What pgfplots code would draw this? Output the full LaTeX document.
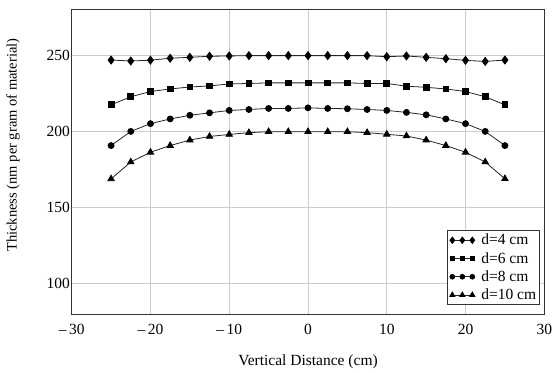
\documentclass[border=0pt]{standalone}
\usepackage{fontspec}
\setmainfont{Liberation Serif}
\usepackage{pgfplots}
\pgfplotsset{compat=1.18}
\begin{document}
\begin{tikzpicture}
\useasboundingbox (-71.7bp,-58.7bp) rectangle (488.3bp,314.3bp);
\begin{axis}[
  at={(0,0)}, anchor=south west,
  width=472.6bp, height=304.3bp, scale only axis,
  xmin=-30, xmax=30, ymin=80, ymax=280,
  xtick={-30,-20,-10,0,10,20,30},
  xticklabels={\textnormal{\textendash\hspace{2.5bp}30},\textnormal{\textendash\hspace{2.5bp}20},\textnormal{\textendash\hspace{2.5bp}10},\textnormal{0},\textnormal{10},\textnormal{20},\textnormal{30}},
  ytick={100,150,200,250},
  yticklabels={\textnormal{100},\textnormal{150},\textnormal{200},\textnormal{250}},
  major tick length=0pt,
  grid=major,
  grid style={draw=black!20, line width=0.8bp},
  axis line style={draw=black!80, line width=1bp},
  font=\fontsize{15.5bp}{18bp}\selectfont,
  tick label style={font=\fontsize{15.5bp}{18bp}\selectfont},
  yticklabel style={inner sep=1.5bp},
  xticklabel style={inner sep=1bp, yshift=-9bp},
  xlabel={Vertical Distance (cm)},
  ylabel={Thickness (nm per gram of material)},
  xlabel style={at={(axis description cs:0.5,-0.157)}, anchor=center},
  ylabel style={at={(axis description cs:-0.124,0.556)}, anchor=center, rotate=0, font=\fontsize{14.5bp}{17bp}\selectfont},
  legend image code/.code={\path[draw=none,fill=none] (-3bp,-4bp) rectangle (23bp,4bp);\draw[#1, every mark/.append style={scale=0.8}] plot coordinates {(0bp,0bp) (10bp,0bp) (20bp,0bp)};},
  legend style={at={(rel axis cs:1,0)}, anchor=south east, xshift=-4.3bp, yshift=9.3bp,
    draw=black!80, line width=0.8bp, fill=white, font=\fontsize{15.5bp}{18bp}\selectfont,
    inner sep=1.5bp, row sep=2bp, column sep=4bp},
  legend cell align=left,
  every axis plot/.append style={draw=black!85, line width=0.8bp},
]
\addplot[mark=diamond*, mark size=4bp, mark options={fill=black, draw=black}] coordinates {
(-25,247.1) (-22.5,246.5) (-20,247.0) (-17.5,248.3) (-15,248.9) (-12.5,249.6) (-10,249.8)
(-7.5,250.0) (-5,250.0) (-2.5,250.0) (0,250.0) (2.5,250.0) (5,250.0) (7.5,250.0)
(10,249.3) (12.5,249.8) (15,248.9) (17.5,248.0) (20,246.9) (22.5,246.2) (25,247.1)};
\addlegendentry{d=4 cm}
\addplot[mark=square*, mark size=2.9bp, mark options={fill=black, draw=black}] coordinates {
(-25,217.7) (-22.5,223.0) (-20,226.4) (-17.5,228.1) (-15,229.4) (-12.5,230.1) (-10,231.4)
(-7.5,231.7) (-5,232.1) (-2.5,232.1) (0,232.1) (2.5,232.1) (5,232.1) (7.5,231.7)
(10,231.7) (12.5,229.9) (15,229.2) (17.5,228.1) (20,226.4) (22.5,223.0) (25,217.7)};
\addlegendentry{d=6 cm}
\addplot[mark=*, mark size=3bp, mark options={fill=black, draw=black}] coordinates {
(-25,190.9) (-22.5,200.2) (-20,205.3) (-17.5,208.4) (-15,210.8) (-12.5,212.4) (-10,214.0)
(-7.5,214.6) (-5,215.3) (-2.5,215.3) (0,215.7) (2.5,215.3) (5,215.1) (7.5,214.6)
(10,214.0) (12.5,212.7) (15,211.1) (17.5,208.4) (20,205.3) (22.5,200.2) (25,190.9)};
\addlegendentry{d=8 cm}
\addplot[mark=triangle*, mark size=3.7bp, mark options={fill=black, draw=black}] coordinates {
(-25,169.0) (-22.5,180.1) (-20,186.5) (-17.5,190.9) (-15,194.5) (-12.5,196.9) (-10,198.2)
(-7.5,199.4) (-5,200.0) (-2.5,200.0) (0,200.0) (2.5,200.0) (5,200.0) (7.5,199.4)
(10,198.3) (12.5,197.2) (15,194.5) (17.5,190.9) (20,186.5) (22.5,180.1) (25,169.1)};
\addlegendentry{d=10 cm}
\end{axis}
\end{tikzpicture}
\end{document}
